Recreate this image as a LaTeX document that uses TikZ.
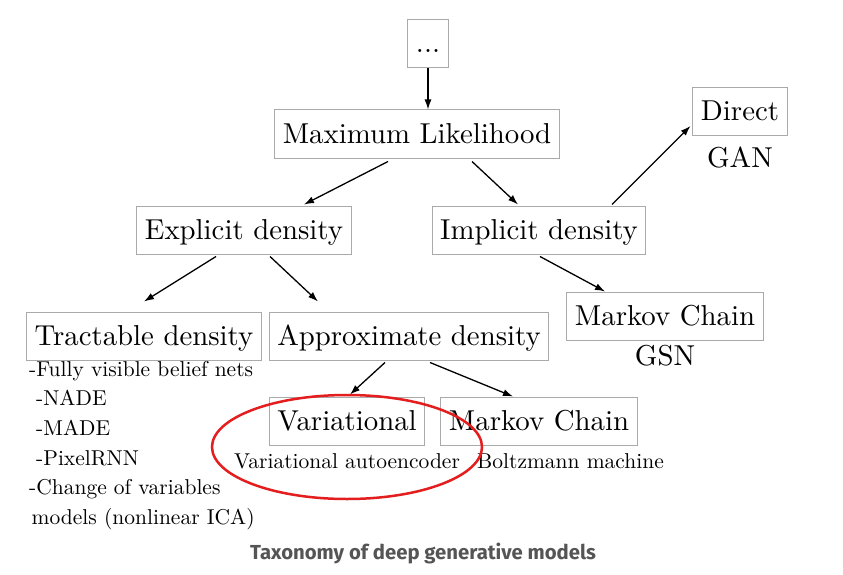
\documentclass[tikz,border=0pt]{standalone}
\usepackage{fontspec}
\setmainfont{lmroman10-regular.otf}
\newfontfamily\capfont{Fira Sans}
\usetikzlibrary{arrows,arrows.meta,positioning}
\definecolor{boxgray}{RGB}{170,170,170}
\definecolor{circred}{RGB}{228,30,30}
\definecolor{capgray}{RGB}{85,85,85}
\tikzset{
  tbox/.style={draw=boxgray,line width=1pt,inner xsep=8pt,inner ysep=9pt,
    text height=24pt,text depth=6pt,font=\fontsize{28.8}{34}\selectfont},
  big/.style={inner sep=0pt,font=\fontsize{28.8}{34}\selectfont},
  small/.style={inner sep=0pt,font=\fontsize{21.5}{29.6}\selectfont},
  arr/.style={-{Latex[length=10pt,width=7pt]},line width=1.3pt}
}

\begin{document}
\begin{tikzpicture}[x=1pt,y=-1pt]
\path[use as bounding box,fill=white] (0,0) rectangle (843,575);
% boxes
\node (dots) [tbox] at (428,44) {...};
\node (ml) [tbox] at (417,134) {Maximum Likelihood};
\node (dir) [tbox] at (740,112) {Direct};
\node (gan) [big,anchor=base] at (740,167) {GAN};
\node (ed) [tbox] at (244,230) {Explicit density};
\node (id) [tbox] at (539,230) {Implicit density};
\node (mcg) [tbox] at (665,316) {Markov Chain};
\node (gsn) [big,anchor=base] at (665,365) {GSN};
\node (td) [tbox] at (144,336) {Tractable density};
\node (ad) [tbox] at (409,336) {Approximate density};
\node (var) [tbox] at (347,421) {Variational};
\node (mcb) [tbox] at (539,421) {Markov Chain};
\node (vae) [small,anchor=base] at (347,468) {Variational autoencoder};
\node (bm) [small,anchor=base west] at (477,468) {Boltzmann machine};
\node (tdlist) [small,anchor=north west,align=left] at (29,361)
  {-Fully visible belief nets\\
   \hspace*{7pt}-NADE\\
   \hspace*{7pt}-MADE\\
   \hspace*{7pt}-PixelRNN\\
   -Change of variables\\
   \hspace*{2.5pt}models (nonlinear ICA)};
%
\path[arr] (dots.south) edge (dots.south |- ml.north);
\path[arr] ([xshift=-29pt,yshift=-3pt]ml.south) edge ([xshift=60pt,yshift=1pt]ed.north);
\path[arr] ([xshift=55pt,yshift=-3pt]ml.south) edge ([xshift=-21pt,yshift=1pt]id.north);
\path[arr] ([xshift=73pt,yshift=1pt]id.north) edge ([xshift=-2pt,yshift=-14pt]dir.west);
\path[arr] ([xshift=-28pt,yshift=-2pt]ed.south) edge ([yshift=10pt]td.north);
\path[arr] ([xshift=26pt,yshift=-2pt]ed.south) edge ([xshift=-91pt,yshift=10pt]ad.north);
\path[arr] ([xshift=1pt,yshift=-2pt]id.south) edge ([xshift=-60pt]mcg.north);
\path[arr] ([xshift=-24pt,yshift=-2pt]ad.south) edge ([xshift=3pt,yshift=2pt]var.north);
\path[arr] ([xshift=21pt,yshift=-2pt]ad.south) edge ([xshift=-26pt]mcb.north);
% highlight
\draw[circred,line width=2.5pt] (347,447) ellipse [x radius=135pt,y radius=52pt];
\node (caption) [anchor=base,text=capgray,font=\capfont\bfseries\fontsize{20.3}{24}\selectfont]
  at (423,559) {Taxonomy of deep generative models};
\end{tikzpicture}
\end{document}
